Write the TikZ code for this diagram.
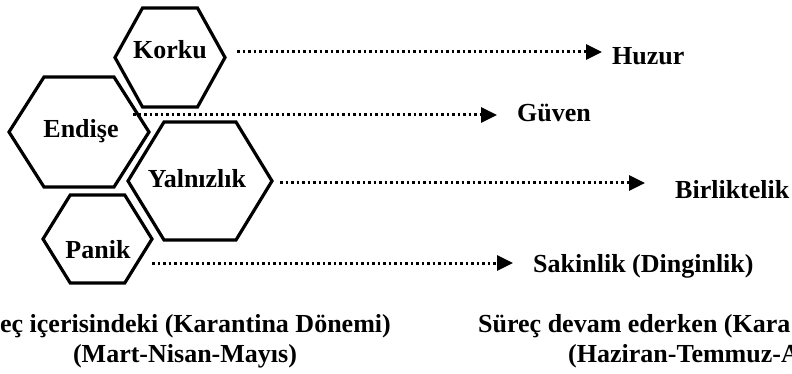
\documentclass[tikz,border=0pt]{standalone}
\usepackage{fontspec}
\setmainfont{Liberation Serif}
\usetikzlibrary{arrows.meta, positioning, calc}

\begin{document}
\begin{tikzpicture}[
    x=1pt, y=-1pt,
    hexline/.style={line width=3.2pt, line join=miter},
    word/.style={font=\bfseries\fontsize{26}{30}\selectfont, inner sep=0pt, anchor=base},
    flow/.style={line width=3pt, dash pattern=on 2.5pt off 3pt, -{Triangle[length=16pt, width=15pt]}},
]
\useasboundingbox (0,0) rectangle (792,374);

% Hexagons (centre x / centre y / half width / half height)
\foreach \cx/\cy/\a/\b in {170/57.5/55/49.5, 79/132/70/55, 200/181/72/59, 97.5/239/54.5/44}
    \draw[hexline] (\cx-\a,\cy) -- (\cx-\a/2,\cy-\b) -- (\cx+\a/2,\cy-\b) -- (\cx+\a,\cy)
        -- (\cx+\a/2,\cy+\b) -- (\cx-\a/2,\cy+\b) -- cycle;

% Feelings during the process
\node[word] (korku) at (170,59) {Korku};
\node[word] (endise) at (81,138) {Endişe};
\node[word] (yalnizlik) at (197,188) {Yalnızlık};
\node[word] (panik) at (98,258) {Panik};

% Feelings afterwards
\node[word, anchor=base west] (huzur) at (612,65) {Huzur};
\node[word, anchor=base west] (guven) at (517,122) {Güven};
\node[word, anchor=base west] (birlik) at (675,199) {Birliktelik};
\node[word, anchor=base west] (sakin) at (533,272) {Sakinlik (Dinginlik)};

% Arrow ends
\coordinate (korkuout) at (237,52);
\coordinate (endiseout) at (133,115);
\coordinate (yalnizout) at (280,183);
\coordinate (panikout) at (152,263);
\coordinate (huzurin) at (602,52);
\coordinate (guvenin) at (497,115);
\coordinate (birlikin) at (645,183);
\coordinate (sakinin) at (513,263);

% Dotted arrows
\draw[flow] (korkuout) -- (huzurin);
\draw[flow] (endiseout) -- (guvenin);
\draw[flow] (yalnizout) -- (birlikin);
\draw[flow] (panikout) -- (sakinin);

% Periods
\node[word, anchor=base east] (stage1) at (391,332) {Süreç içerisindeki (Karantina Dönemi)};
\node[word] (months1) at (185,362) {(Mart-Nisan-Mayıs)};
\node[word, anchor=base west] (stage2) at (478,332) {Süreç devam ederken (Kara};
\node[word, anchor=base west] (months2) at (568,362) {(Haziran-Temmuz-A};

\end{tikzpicture}
\end{document}
